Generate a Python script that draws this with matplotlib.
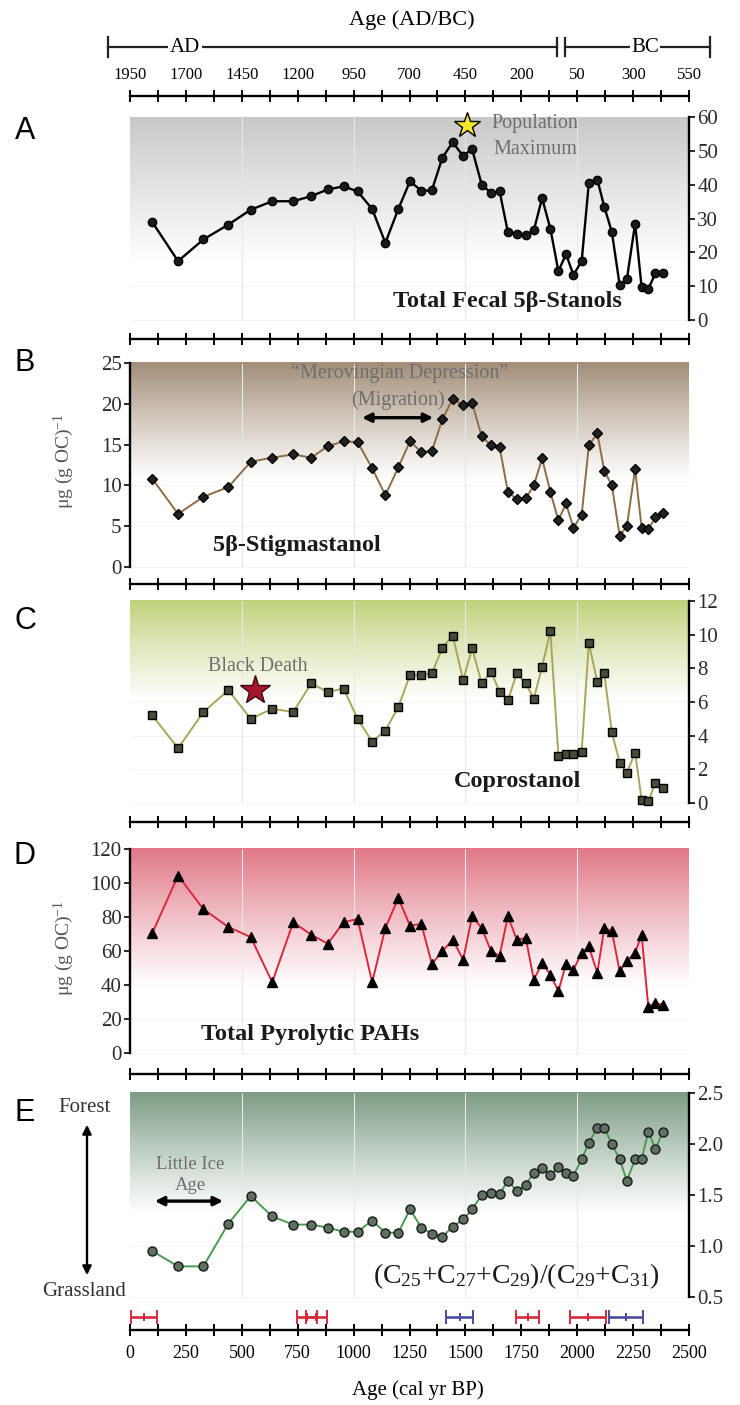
import numpy as np
import matplotlib
matplotlib.use('Agg')
import matplotlib.pyplot as plt
import matplotlib.colors as mcolors
from matplotlib.lines import Line2D

# ---------------- data ----------------
age_bp = [100, 215, 328, 440, 540, 636, 730, 810, 885, 955, 1018, 1083, 1142, 1200,
          1252, 1303, 1350, 1397, 1443, 1490, 1530, 1573, 1615, 1653, 1690, 1730,
          1770, 1806, 1843, 1880, 1916, 1950, 1983, 2020, 2052, 2090, 2121, 2155,
          2190, 2222, 2259, 2288, 2318, 2350, 2383]

fecal_stanols = [28.9, 17.4, 23.8, 28.2, 32.6, 35.1, 35.1, 36.6, 38.6, 39.5, 38.0, 32.8,
                 22.8, 32.8, 41.0, 38.2, 38.3, 48.0, 52.5, 48.5, 50.5, 40.0, 37.5, 38.0,
                 26.0, 25.5, 25.0, 26.5, 36.0, 27.0, 14.4, 19.5, 13.3, 17.4, 40.5, 41.5,
                 33.5, 26.0, 10.3, 12.0, 28.5, 9.7, 9.2, 13.8, 13.8]

stigmastanol = [10.8, 6.5, 8.6, 9.8, 12.9, 13.4, 13.8, 13.4, 14.8, 15.4, 15.3, 12.1, 8.8,
                12.2, 15.4, 14.1, 14.2, 18.1, 20.6, 19.8, 20.1, 16.0, 14.9, 14.7, 9.2,
                8.3, 8.4, 10.0, 13.3, 9.2, 5.7, 7.8, 4.8, 6.4, 14.9, 16.4, 11.8, 10.0,
                3.8, 5.0, 12.0, 4.8, 4.6, 6.1, 6.6]

coprostanol = [5.2, 3.25, 5.4, 6.7, 5.0, 5.6, 5.4, 7.1, 6.6, 6.8, 5.0, 3.65, 4.3, 5.7,
               7.6, 7.6, 7.7, 9.2, 9.95, 7.3, 9.2, 7.1, 7.8, 6.6, 6.1, 7.7, 7.1, 6.2,
               8.1, 10.2, 2.8, 2.9, 2.9, 3.05, 9.5, 7.2, 7.7, 4.2, 2.4, 1.8, 3.0, 0.2,
               0.1, 1.2, 0.9]

pyro_pahs = [70.6, 104.3, 84.7, 74.1, 68.2, 41.6, 76.9, 69.6, 64.3, 76.9, 78.8, 41.6,
             73.5, 91.2, 74.9, 75.9, 52.4, 59.8, 66.7, 54.9, 80.4, 73.5, 59.8, 57.3,
             80.4, 66.7, 67.6, 43.1, 52.9, 46.1, 36.3, 52.5, 49.0, 58.8, 62.7, 47.1,
             73.5, 71.6, 48.0, 54.3, 58.8, 69.6, 27.1, 29.4, 28.4]

alkane_ratio = [0.95, 0.80, 0.80, 1.22, 1.49, 1.29, 1.21, 1.21, 1.18, 1.14, 1.14, 1.25,
                1.13, 1.13, 1.36, 1.18, 1.12, 1.09, 1.19, 1.26, 1.36, 1.50, 1.52, 1.51,
                1.64, 1.54, 1.60, 1.72, 1.76, 1.70, 1.77, 1.72, 1.69, 1.85, 2.01, 2.16,
                2.16, 2.00, 1.85, 1.64, 1.85, 1.85, 2.12, 1.95, 2.12]

# age-control ranges (centre, half width, kind)
date_center = [63, 790, 833, 1474, 1778, 2048, 2218]
date_half = [59, 45, 46, 62, 50, 80, 78]
date_kind = ['red', 'red', 'red', 'blue', 'red', 'red', 'blue']

bp_ticks = [0, 250, 500, 750, 1000, 1250, 1500, 1750, 2000, 2250, 2500]
adbc_labels = ['1950', '1700', '1450', '1200', '950', '700', '450', '200', '50', '300', '550']

# ---------------- style ----------------
plt.rcParams['font.family'] = ['Liberation Serif', 'DejaVu Serif']
plt.rcParams['mathtext.fontset'] = 'custom'
plt.rcParams['mathtext.rm'] = 'Liberation Serif'
plt.rcParams['mathtext.it'] = 'Liberation Serif:italic'
plt.rcParams['mathtext.bf'] = 'Liberation Serif:bold'

W, H, DPI = 740, 1405, 100
fig = plt.figure(figsize=(W / DPI, H / DPI), dpi=DPI)
fig.patch.set_facecolor('white')


def fx(px):
    return px / W


def fy(py):
    return 1 - py / H


X0, X1 = 130, 689
# (axes top px, axes bottom px, v0, py0, v1, py1)
layout = [
    (96, 339, 0, 320, 60, 117),
    (339, 584, 0, 567, 25, 363),
    (584, 822, 0, 803, 12, 601),
    (822, 1074, 0, 1053, 120, 849),
    (1074, 1330, 0.5, 1297, 2.5, 1093),
]
yticks_all = [np.arange(0, 61, 10), np.arange(0, 26, 5), np.arange(0, 13, 2),
              np.arange(0, 121, 20), np.arange(0.5, 2.51, 0.5)]
side = ['right', 'left', 'right', 'left', 'right']
grad_color = ['#c8c8c8', '#a28e78', '#c0d27c', '#e17888', '#7c9c84']
grad_fade = [16, 10.5, 6.0, 38, 1.3]
letters = ['A', 'B', 'C', 'D', 'E']
letter_y = [131, 363, 621, 856, 1113]

GRAY = '#6e6e6e'
axes = []
for i, (top, bot, v0, py0, v1, py1) in enumerate(layout):
    ax = fig.add_axes([fx(X0), fy(bot), (X1 - X0) / W, (bot - top) / H])
    s = (v1 - v0) / (py0 - py1)
    ylim = (v0 - (bot - py0) * s, v1 + (py1 - top) * s)
    ax.patch.set_alpha(0)
    for sp in ax.spines.values():
        sp.set_visible(False)
    ax.spines['bottom'].set_visible(True)
    ax.spines['bottom'].set_linewidth(1.7)
    if i == 0:
        ax.spines['top'].set_visible(True)
        ax.spines['top'].set_linewidth(1.7)
    ys = ax.spines[side[i]]
    ys.set_visible(True)
    ys.set_linewidth(1.7)
    ys.set_bounds(v0, v1)

    # x ticks
    ax.set_xticks(bp_ticks)
    ax.set_xticks(np.arange(125, 2500, 250), minor=True)
    ax.tick_params(axis='x', which='both', direction='inout', length=9, width=1.4,
                   top=(i == 0), bottom=True, labelbottom=False, labeltop=False)
    if i == 0:
        ax.tick_params(axis='x', which='major', labeltop=True, labelsize=12, pad=5)
        ax.set_xticklabels(adbc_labels)
    if i == 4:
        ax.tick_params(axis='x', which='major', labelbottom=True, labelsize=13, pad=6)
        ax.set_xticklabels([str(t) for t in bp_ticks])

    # y ticks
    yt = yticks_all[i]
    if side[i] == 'right':
        ax.yaxis.tick_right()
        ax.tick_params(axis='y', left=False, right=True)
    else:
        ax.yaxis.tick_left()
    ax.set_yticks(yt)
    if i == 4:
        ax.set_yticklabels(['%.1f' % t for t in yt])
    else:
        ax.set_yticklabels(['%d' % t for t in yt])
    ax.tick_params(axis='y', direction='out', length=4, width=1.4, labelsize=15,
                   pad=2, colors='#2a2a2a')

    # gradient background
    n = 256
    t = np.linspace(0, 1, n)[:, None]
    rgb = np.array(mcolors.to_rgb(grad_color[i]))
    img = 1 - (1 - rgb)[None, None, :] * (t ** 1.1)[..., None]
    ax.imshow(img, extent=[0, 2500, grad_fade[i], v1], origin='lower', aspect='auto',
              interpolation='bilinear', zorder=0)
    ax.vlines([500, 1000, 1500, 2000], v0, v1, color='#e8e8e8', lw=0.8, zorder=0.5)
    ax.hlines(yt, 0, 2500, color='#f2f2f2', lw=0.6, zorder=-1)
    ax.set_ylim(*ylim)
    ax.set_xlim(0, 2500)

    fig.text(fx(25), fy(letter_y[i]), letters[i], family=['Liberation Sans', 'DejaVu Sans'],
             fontsize=22, ha='center', va='center')
    axes.append(ax)

axA, axB, axC, axD, axE = axes

# y labels
ylab = r'μg (g OC)$^{-1}$'
for ax in (axB, axD):
    ax.set_ylabel(ylab, fontsize=14, color='#555555')
    ax.yaxis.set_label_coords((76 - X0) / (X1 - X0), 0.5)
for ax in (axA, axC):
    ax.yaxis.set_label_position('right')
    ax.set_ylabel(ylab, fontsize=14, color='#555555', rotation=90)
    ax.yaxis.set_label_coords((746 - X0) / (X1 - X0), 0.5)

# ---------------- series ----------------
axA.plot(age_bp, fecal_stanols, color='black', lw=1.7, marker='o', ms=6,
         mfc='#1a1a1a', mec='black', zorder=3)
axB.plot(age_bp, stigmastanol, color='#8e6d45', lw=1.4, marker='D', ms=5.5,
         mfc='#222222', mec='black', zorder=3)
axC.plot(age_bp, coprostanol, color='#aaa558', lw=1.4, marker='s', ms=5.5,
         mfc='#4a4a38', mec='black', zorder=3)
axD.plot(age_bp, pyro_pahs, color='#d8283c', lw=1.4, marker='^', ms=7,
         mfc='black', mec='black', zorder=3)
axE.plot(age_bp, alkane_ratio, color='#4a9a50', lw=1.4, marker='o', ms=6.5,
         mfc='#5f6f60', mec='#1a1a1a', zorder=3)

# ---------------- annotations ----------------
BOLD = 17.5
NOTE = 14.5
axA.text(1690, 5.6, 'Total Fecal 5β-Stanols', fontsize=BOLD, fontweight='bold',
         ha='center', va='center', color='#1a1a1a')
axA.plot([1507], [57.5], marker='*', ms=19, mfc='#f3e52a', mec='black', mew=1, zorder=5)
axA.text(1810, 58, 'Population', fontsize=NOTE, color=GRAY, ha='center', va='center')
axA.text(1812, 50.5, 'Maximum', fontsize=NOTE, color=GRAY, ha='center', va='center')

axB.text(745, 2.6, '5β-Stigmastanol', fontsize=BOLD, fontweight='bold',
         ha='center', va='center', color='#1a1a1a')
axB.text(1208, 23.8, '“Merovingian Depression”', fontsize=NOTE, color=GRAY,
         ha='center', va='center')
axB.text(1200, 20.5, '(Migration)', fontsize=NOTE, color=GRAY, ha='center', va='center')
axB.annotate('', xy=(1038, 18.3), xytext=(1356, 18.3),
             arrowprops=dict(arrowstyle='<|-|>', color='black', lw=2.4,
                             mutation_scale=13, shrinkA=0, shrinkB=0))

axC.text(573, 8.1, 'Black Death', fontsize=NOTE, color=GRAY, ha='center', va='center')
axC.plot([561], [6.7], marker='*', ms=22, mfc='#a3162b', mec='#3a0a0a', mew=1, zorder=5)
axC.text(1735, 1.3, 'Coprostanol', fontsize=BOLD, fontweight='bold',
         ha='center', va='center', color='#1a1a1a')

axD.text(805, 10.8, 'Total Pyrolytic PAHs', fontsize=BOLD, fontweight='bold',
         ha='center', va='center', color='#1a1a1a')

axE.text(1727, 0.70, r'(C$_{25}$+C$_{27}$+C$_{29}$)/(C$_{29}$+C$_{31}$)', fontsize=20,
         ha='center', va='center', color='#1a1a1a')
axE.text(271, 1.80, 'Little Ice', fontsize=13.5, color=GRAY, ha='center', va='center')
axE.text(271, 1.595, 'Age', fontsize=13.5, color=GRAY, ha='center', va='center')
axE.annotate('', xy=(111, 1.44), xytext=(416, 1.44),
             arrowprops=dict(arrowstyle='<|-|>', color='black', lw=2.4,
                             mutation_scale=13, shrinkA=0, shrinkB=0))

# age-control bars
bar_col = {'red': '#d42a3c', 'blue': '#4b4b9c'}
for c, h, k in zip(date_center, date_half, date_kind):
    axE.errorbar([c], [0.30], xerr=[h], fmt='|', color=bar_col[k], ecolor=bar_col[k],
                 elinewidth=1.9, capsize=5, capthick=1.9, ms=6, mew=1.4, zorder=4)

# Forest / Grassland
fig.text(fx(85), fy(1107), 'Forest', fontsize=15, color='#333333', ha='center', va='center')
fig.text(fx(84), fy(1291), 'Grassland', fontsize=15, color='#333333', ha='center', va='center')
fig.add_artist(matplotlib.patches.FancyArrowPatch(
    (fx(87), fy(1122)), (fx(87), fy(1278)), transform=fig.transFigure,
    arrowstyle='<|-|>', mutation_scale=13, color='black', lw=1.7))

# bottom axis title
fig.text(fx(418), fy(1390), 'Age (cal yr BP)', fontsize=15, ha='center', va='center')

# ---------------- top AD/BC bracket ----------------
fig.text(fx(412), fy(20), 'Age (AD/BC)', fontsize=16, ha='center', va='center')
yb = 47
lines = [((108, 557), (yb, yb)), ((565, 710), (yb, yb)),
         ((108, 108), (37, 57)), ((710, 710), (37, 57)),
         ((557, 557), (38, 56)), ((565, 565), (38, 56))]
for xs, ys in lines:
    fig.add_artist(Line2D([fx(x) for x in xs], [fy(y) for y in ys],
                          transform=fig.transFigure, color='#222222', lw=1.6))
fig.text(fx(185), fy(yb), 'AD', fontsize=15, ha='center', va='center',
         bbox=dict(facecolor='white', edgecolor='none', pad=1))
fig.text(fx(645), fy(yb), 'BC', fontsize=15, ha='center', va='center',
         bbox=dict(facecolor='white', edgecolor='none', pad=1))

fig.savefig('out.png', dpi=DPI)
